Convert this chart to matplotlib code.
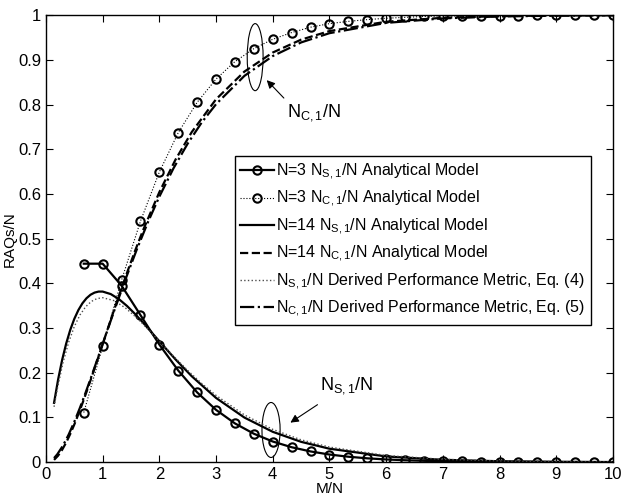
import matplotlib
matplotlib.use("Agg")
import matplotlib.pyplot as plt
from matplotlib.patches import Ellipse

plt.rcParams['font.family'] = ['Liberation Sans', 'DejaVu Sans']
plt.rcParams['mathtext.fontset'] = 'custom'
plt.rcParams['mathtext.rm'] = 'Liberation Sans'
plt.rcParams['mathtext.it'] = 'Liberation Sans'

# N=3 analytical model, x = M/N
x_n3 = [0.667, 1.0, 1.333, 1.667, 2.0, 2.333, 2.667, 3.0, 3.333, 3.667, 4.0, 4.333,
        4.667, 5.0, 5.333, 5.667, 6.0, 6.333, 6.667, 7.0, 7.333, 7.667, 8.0, 8.333,
        8.667, 9.0, 9.333, 9.667, 10.0]
ns_n3 = [0.444, 0.444, 0.395, 0.329, 0.263, 0.205, 0.156, 0.117, 0.0867, 0.0636, 0.0462,
         0.0334, 0.0240, 0.0171, 0.0122, 0.0086, 0.0061, 0.0043, 0.0030, 0.0021, 0.0015,
         0.0010, 0.0007, 0.0005, 0.0003, 0.0002, 0.0002, 0.0001, 0.0001]
nc_n3 = [0.111, 0.259, 0.407, 0.539, 0.649, 0.737, 0.805, 0.857, 0.896, 0.925, 0.946,
         0.961, 0.973, 0.981, 0.986, 0.990, 0.993, 0.995, 0.997, 0.998, 0.998, 0.999,
         0.999, 0.999, 1.0, 1.0, 1.0, 1.0, 1.0]

# N=14 analytical model
x_n14 = [0.1429, 0.2143, 0.2857, 0.3571, 0.4286, 0.5, 0.5714, 0.6429, 0.7143, 0.7857,
         0.8571, 0.9286, 1.0, 1.1429, 1.2857, 1.4286, 1.5714, 1.7143, 2.0, 2.2857,
         2.5714, 3.0, 3.5, 4.0, 4.5, 5.0, 6.0, 7.0, 8.0, 9.0, 10.0]
ns_n14 = [0.1327, 0.1848, 0.2288, 0.2655, 0.2959, 0.3205, 0.3401, 0.3553, 0.3666, 0.3745,
          0.3793, 0.3816, 0.3816, 0.3760, 0.3648, 0.3495, 0.3315, 0.3118, 0.2704, 0.2298,
          0.1922, 0.1437, 0.0998, 0.0679, 0.0455, 0.0301, 0.0128, 0.0053, 0.0021, 0.0009,
          0.0003]
nc_n14 = [0.0051, 0.0146, 0.0277, 0.0441, 0.0631, 0.0842, 0.1072, 0.1314, 0.1568, 0.1829,
          0.2097, 0.2368, 0.2641, 0.3185, 0.3718, 0.4233, 0.4726, 0.5193, 0.6040, 0.6769,
          0.7384, 0.8118, 0.8737, 0.9163, 0.9451, 0.9643, 0.9852, 0.9940, 0.9977, 0.9991,
          0.9997]

# derived performance metrics, Eq. (4) and Eq. (5)
x_eq = [0.1429, 0.2, 0.3, 0.4, 0.5, 0.6, 0.7, 0.8, 0.9, 1.0, 1.2, 1.4, 1.6, 1.8, 2.0,
        2.25, 2.5, 2.75, 3.0, 3.5, 4.0, 4.5, 5.0, 6.0, 7.0, 8.0, 9.0, 10.0]
eq4 = [0.1239, 0.1637, 0.2222, 0.2681, 0.3033, 0.3293, 0.3476, 0.3595, 0.3659, 0.3679,
       0.3614, 0.3452, 0.3230, 0.2975, 0.2707, 0.2371, 0.2052, 0.1757, 0.1494, 0.1057,
       0.0733, 0.0500, 0.0337, 0.0149, 0.0064, 0.0027, 0.0011, 0.0005]
eq5 = [0.0092, 0.0176, 0.0370, 0.0616, 0.0902, 0.1219, 0.1558, 0.1912, 0.2275, 0.2642,
       0.3374, 0.4082, 0.4751, 0.5372, 0.5940, 0.6575, 0.7127, 0.7604, 0.8008, 0.8641,
       0.9084, 0.9389, 0.9596, 0.9826, 0.9927, 0.9970, 0.9988, 0.9995]

S = r'$\mathregular{N_{S,1}}$'
C = r'$\mathregular{N_{C,1}}$'

fig = plt.figure(figsize=(6.21, 5.04), dpi=100)
ax = fig.add_axes([0.074, 0.083, 0.913, 0.887])

ax.plot(x_n3, ns_n3, 'k-o', lw=1.6, ms=6, mew=1.5, mfc='none',
        label='N=3 ' + S + '/N Analytical Model')
ax.plot(x_n3, nc_n3, ':o', color='k', lw=0.8, ms=6, mew=1.5, mfc='none',
        label='N=3 ' + C + '/N Analytical Model')
ax.plot(x_n14, ns_n14, 'k-', lw=1.6, label='N=14 ' + S + '/N Analytical Model')
ax.plot(x_n14, nc_n14, 'k--', lw=1.6, label='N=14 ' + C + '/N Analytical Model')
ax.plot(x_eq, eq4, ':', color='0.3', lw=1.0,
        label=S + '/N Derived Performance Metric, Eq. (4)')
ax.plot(x_eq, eq5, '-.', color='k', lw=1.6,
        label=C + '/N Derived Performance Metric, Eq. (5)')

ax.set_xlim(0, 10)
ax.set_ylim(0, 1)
ax.set_xticks(range(0, 11))
ax.set_yticks([i / 10 for i in range(11)])
ax.set_yticklabels(['0', '0.1', '0.2', '0.3', '0.4', '0.5', '0.6', '0.7', '0.8', '0.9', '1'])
ax.tick_params(direction='in', top=True, right=True, labelsize=12, length=5, width=0.8)
for sp in ax.spines.values():
    sp.set_linewidth(1.0)
ax.set_xlabel('M/N', fontsize=11, labelpad=0)
ax.set_ylabel('RAQs/N', fontsize=11, labelpad=1)

leg = ax.legend(loc='upper left', bbox_to_anchor=(0.333, 0.685), fontsize=11.5,
                handlelength=2.1, handletextpad=0.15, borderpad=0.35, labelspacing=0.45,
                fancybox=False, framealpha=1, edgecolor='k', borderaxespad=0)
leg.get_frame().set_linewidth(1.0)

# annotations
ax.add_patch(Ellipse((3.69, 0.906), 0.28, 0.15, fill=False, lw=0.8, ec='k'))
ax.annotate('', xy=(3.86, 0.859), xytext=(4.23, 0.81),
            arrowprops=dict(arrowstyle='-|>', color='k', lw=0.8, mutation_scale=12))
ax.text(4.25, 0.783, C + '/N', fontsize=13, va='center', ha='left')

ax.add_patch(Ellipse((3.97, 0.072), 0.32, 0.123, fill=False, lw=0.8, ec='k'))
ax.annotate('', xy=(4.27, 0.085), xytext=(4.83, 0.132),
            arrowprops=dict(arrowstyle='-|>', color='k', lw=0.8, mutation_scale=12))
ax.text(4.83, 0.172, S + '/N', fontsize=13, va='center', ha='left')

fig.savefig('out.png', dpi=100)
